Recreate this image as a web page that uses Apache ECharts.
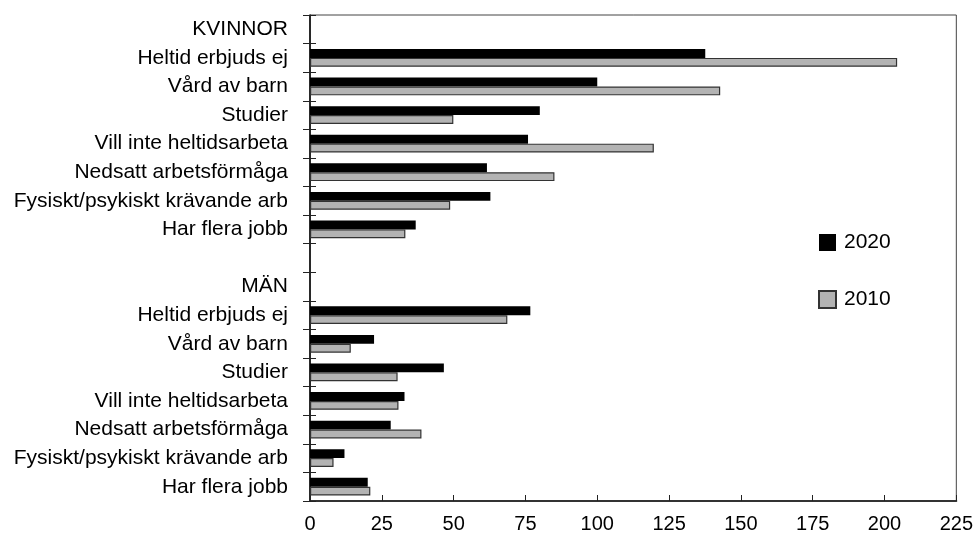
<!DOCTYPE html>
<html>
<head>
<meta charset="utf-8">
<script src="https://cdn.jsdelivr.net/npm/echarts@6/dist/echarts.min.js"></script>
<style>
html,body{margin:0;padding:0;background:#fff;}
#chart{width:976px;height:534px;}
</style>
</head>
<body>
<div id="chart"></div>
<script>
const categories = [
  'KVINNOR',
  'Heltid erbjuds ej',
  'Vård av barn',
  'Studier',
  'Vill inte heltidsarbeta',
  'Nedsatt arbetsförmåga',
  'Fysiskt/psykiskt krävande arb',
  'Har flera jobb',
  '',
  'MÄN',
  'Heltid erbjuds ej',
  'Vård av barn',
  'Studier',
  'Vill inte heltidsarbeta',
  'Nedsatt arbetsförmåga',
  'Fysiskt/psykiskt krävande arb',
  'Har flera jobb'
];
const values2020 = [null, 137.6, 100.0, 80.0, 75.9, 61.6, 62.8, 36.8, null, null, 76.7, 22.3, 46.6, 32.9, 28.1, 12.0, 20.1];
const values2010 = [null, 204.4, 142.8, 49.9, 119.7, 85.1, 48.8, 33.2, null, null, 68.7, 14.2, 30.5, 30.8, 38.8, 8.2, 21.0];
const xTicks = [0, 25, 50, 75, 100, 125, 150, 175, 200, 225];

const FONT = '"Liberation Sans", Arial, sans-serif';
const chart = echarts.init(document.getElementById('chart'));
chart.setOption({
  backgroundColor: '#fff',
  animation: false,
  textStyle: { fontFamily: FONT },
  grid: {
    left: 310, right: 18, top: 15, bottom: 33,
    show: true, borderColor: '#444', borderWidth: 1, backgroundColor: 'transparent'
  },
  legend: {
    orient: 'vertical',
    left: 818, top: 232,
    padding: 0,
    itemWidth: 17, itemHeight: 17, itemGap: 36,
    icon: 'rect',
    textStyle: { fontSize: 21, color: '#000', fontFamily: FONT, padding: [0, 0, 0, 3] },
    data: ['2020', '2010']
  },
  xAxis: {
    type: 'value',
    min: xTicks[0], max: xTicks[xTicks.length - 1], interval: 25,
    axisLine: { show: true, lineStyle: { color: '#333', width: 2 } },
    axisTick: { show: true, inside: true, length: 6, lineStyle: { color: '#222', width: 1 } },
    axisLabel: { fontSize: 20, color: '#000', margin: 13, fontFamily: FONT },
    splitLine: { show: false }
  },
  yAxis: [{
    type: 'category',
    data: categories,
    inverse: true,
    axisLine: { show: true, onZero: false, lineStyle: { color: '#000', width: 1.5 } },
    axisTick: { show: true, length: 7, alignWithLabel: false, lineStyle: { color: '#222', width: 1 } },
    axisLabel: { fontSize: 21, color: '#000', margin: 22, fontFamily: FONT, interval: 0 },
    splitLine: { show: false }
  }, {
    type: 'category',
    data: categories,
    inverse: true,
    position: 'left',
    axisLine: { show: false },
    axisTick: { show: true, inside: true, length: 6, lineStyle: { color: '#222', width: 1 } },
    axisLabel: { show: false },
    splitLine: { show: false }
  }],
  series: [{
    name: '2020',
    type: 'bar',
    yAxisIndex: 0,
    data: values2020,
    barGap: '0%',
    barCategoryGap: '38%',
    itemStyle: { color: '#000' }
  }, {
    name: '2010',
    type: 'bar',
    yAxisIndex: 0,
    data: values2010,
    barGap: '0%',
    barCategoryGap: '38%',
    itemStyle: { color: '#b3b3b3', borderColor: '#333', borderWidth: 1.2 }
  }]
});
</script>
</body>
</html>
